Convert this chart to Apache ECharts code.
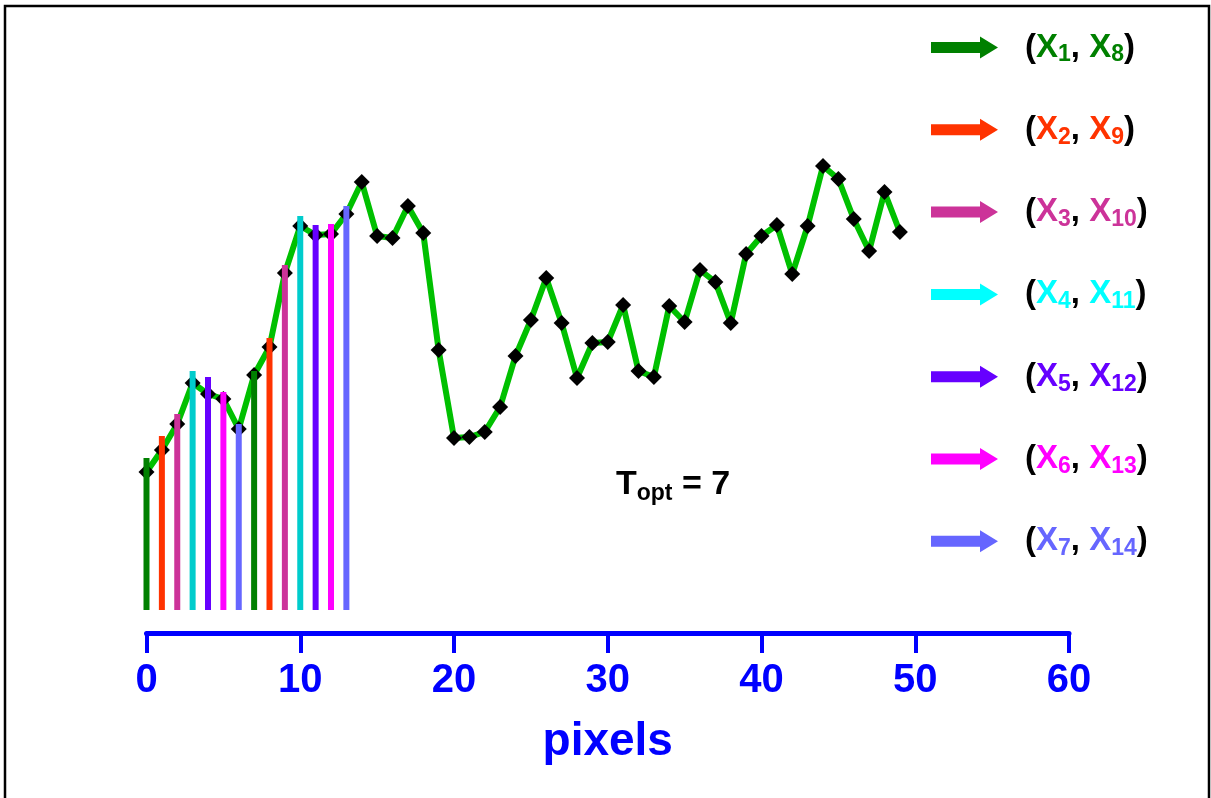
<!DOCTYPE html>
<html>
<head>
<meta charset="utf-8">
<script src="https://cdn.jsdelivr.net/npm/echarts@6/dist/echarts.min.js"></script>
<style>
html,body{margin:0;padding:0;background:#fff;}
#chart{width:1211px;height:798px;}
</style>
</head>
<body>
<div id="chart"></div>
<script>
// ---- data ----
const xTicks = [0, 10, 20, 30, 40, 50, 60];
const profile = [161, 183, 209, 250, 239, 234, 204, 258, 286, 360,
                 407, 398, 399, 419, 451, 397, 395, 427, 400, 283,
                 195, 196, 201, 226, 277, 313, 355, 310, 255, 290,
                 291, 328, 262, 256, 327, 311, 363, 351, 310, 379,
                 397, 408, 359, 407, 467, 454, 414, 382, 441, 401];
const barTops = [175, 197, 219, 262, 256, 241, 209, 262, 295, 368, 417, 408, 409, 427];
const barBase = 23;
const groupNames = ['(X1, X8)', '(X2, X9)', '(X3, X10)', '(X4, X11)', '(X5, X12)', '(X6, X13)', '(X7, X14)'];
const groupSubs = [[1, 8], [2, 9], [3, 10], [4, 11], [5, 12], [6, 13], [7, 14]];
const barColors = ['#008000', '#ff3300', '#cc3399', '#00cccc', '#6600ff', '#ff00ff', '#6666ff'];
const legendColors = ['#008000', '#ff3300', '#cc3399', '#00ffff', '#6600ff', '#ff00ff', '#6666ff'];
const tOpt = 7;

// ---- build ----
const chart = echarts.init(document.getElementById('chart'));
const FONT = 'Liberation Sans, Arial, sans-serif';

const barSeries = groupNames.map((name, g) => {
  const data = [];
  for (let i = g; i < barTops.length; i += tOpt) data.push([i, barTops[i]]);
  return {
    name: name,
    type: 'custom',
    z: 5,
    itemStyle: { color: barColors[g] },
    data: data,
    renderItem: function (params, api) {
      const top = api.coord([api.value(0), api.value(1)]);
      const bot = api.coord([api.value(0), barBase]);
      const w = 6;
      return {
        type: 'rect',
        shape: { x: top[0] - w / 2, y: top[1], width: w, height: bot[1] - top[1] },
        style: { fill: barColors[g] }
      };
    }
  };
});

const rich = { sp: { width: 22, lineHeight: 38 }, p: { fontSize: 33, fontWeight: 'bold', color: '#000', lineHeight: 38, fontFamily: FONT } };
legendColors.forEach((c, g) => {
  rich['x' + g] = { fontSize: 33, fontWeight: 'bold', color: c, lineHeight: 38, fontFamily: FONT };
  rich['s' + g] = { fontSize: 23, fontWeight: 'bold', color: c, lineHeight: 23, verticalAlign: 'bottom', fontFamily: FONT };
});

const arrow = 'path://M0,5.5 L49,5.5 L49,0 L67,11 L49,22 L49,16.5 L0,16.5 Z';

const option = {
  animation: false,
  backgroundColor: '#fff',
  grid: { left: 146.5, right: 142, top: 33, bottom: 165, containLabel: false },
  xAxis: {
    type: 'value', min: xTicks[0], max: xTicks[xTicks.length - 1], interval: 10,
    name: 'pixels', nameLocation: 'middle', nameGap: 86,
    nameTextStyle: { color: '#0000ff', fontSize: 46, fontWeight: 'bold', fontFamily: FONT },
    axisLine: { show: true, lineStyle: { color: '#0000ff', width: 5 } },
    axisTick: { show: true, length: 20, lineStyle: { color: '#0000ff', width: 4 } },
    axisLabel: { color: '#0000ff', fontSize: 40, fontWeight: 'bold', margin: 28, fontFamily: FONT },
    splitLine: { show: false }
  },
  yAxis: { type: 'value', min: 0, max: 600, show: false },
  legend: {
    orient: 'vertical', left: 931, top: 31, padding: 0, itemWidth: 67, itemHeight: 22, itemGap: 46.8,
    icon: arrow, selectedMode: false,
    data: groupNames.map((n, g) => ({ name: n, itemStyle: { color: legendColors[g] } })),
    formatter: function (name) {
      const g = groupNames.indexOf(name);
      const s = groupSubs[g];
      return '{sp| }{p|(}{x' + g + '|X}{s' + g + '|' + s[0] + '}{p|, }{x' + g + '|X}{s' + g + '|' + s[1] + '}{p|)}';
    },
    textStyle: { rich: rich }
  },
  graphic: [
    {
      type: 'polyline', z: 100,
      shape: { points: [[5, 798], [5, 6], [1209, 6], [1209, 798]] },
      style: { stroke: '#000', lineWidth: 2.5, fill: null }
    },
    {
      type: 'text', left: 616, top: 468, z: 100,
      style: {
        text: '{t|T}{o|opt}{t| = ' + tOpt + '}',
        rich: {
          t: { fontSize: 34, fontWeight: 'bold', color: '#000', lineHeight: 40, fontFamily: FONT },
          o: { fontSize: 23, fontWeight: 'bold', color: '#000', lineHeight: 23, verticalAlign: 'bottom', fontFamily: FONT }
        }
      }
    }
  ],
  series: [
    {
      name: 'profile', type: 'line', z: 3,
      data: profile.map((v, i) => [i, v]),
      symbol: 'diamond', symbolSize: 16,
      lineStyle: { color: '#00c000', width: 6 },
      itemStyle: { color: '#000' }
    }
  ].concat(barSeries)
};
chart.setOption(option);
</script>
</body>
</html>
